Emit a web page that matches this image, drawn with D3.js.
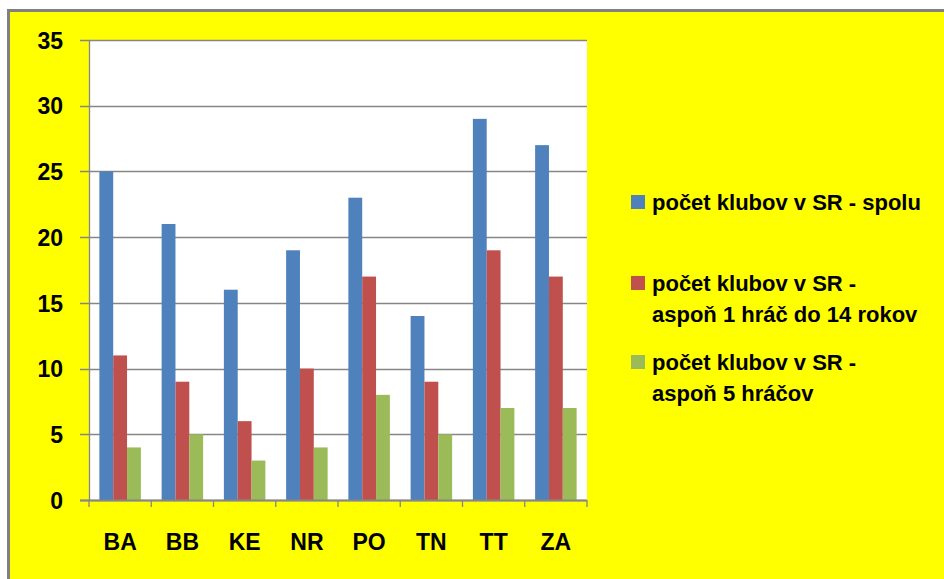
<!DOCTYPE html>
<html>
<head>
<meta charset="utf-8">
<script src="https://cdn.jsdelivr.net/npm/d3@7"></script>
<style>
  html, body { margin: 0; padding: 0; background: #fff; }
  svg { display: block; }
  text { font-family: "Liberation Sans", Arial, sans-serif; font-weight: bold; fill: #000; }
</style>
</head>
<body>
<div id="chart"></div>
<script>
// data
const regions = ["BA", "BB", "KE", "NR", "PO", "TN", "TT", "ZA"];
const spolu = [25, 21, 16, 19, 23, 14, 29, 27];
const hrac14 = [11, 9, 6, 10, 17, 9, 19, 17];
const hracov5 = [4, 5, 3, 4, 8, 5, 7, 7];
const seriesNames = [
    ["počet klubov v SR - spolu"],
    ["počet klubov v SR -", "aspoň 1 hráč do 14 rokov"],
    ["počet klubov v SR -", "aspoň 5 hráčov"]
];
const yTicks = [0, 5, 10, 15, 20, 25, 30, 35];

const series = [
    {values: spolu, clr: "#4F81BD"},
    {values: hrac14, clr: "#C0504D"},
    {values: hracov5, clr: "#9BBB59"}
];

const W = 944, H = 579;
const plot = {left: 89, right: 587, top: 40, bottom: 500};

const svg = d3.select("#chart").append("svg")
    .attr("width", W)
    .attr("height", H);

// pozadie s ramom
svg.append("rect")
    .attr("x", 8.5).attr("y", 10.5)
    .attr("width", W).attr("height", H)
    .attr("fill", "#FFFF00")
    .attr("stroke", "#808080")
    .attr("stroke-width", 3);

svg.append("rect")
    .attr("x", plot.left).attr("y", plot.top)
    .attr("width", plot.right - plot.left)
    .attr("height", plot.bottom - plot.top)
    .attr("fill", "#fff");

const x = d3.scaleBand()
    .domain(regions)
    .range([plot.left, plot.right])
    .paddingInner(0).paddingOuter(0);

const y = d3.scaleLinear()
    .domain([0, 35])
    .range([plot.bottom, plot.top]);

const bw = x.bandwidth() / 4.5;   // gap = 150%

// mriezka
svg.append("g")
    .selectAll("line")
    .data(yTicks)
    .enter().append("line")
    .attr("x1", plot.left - 9)
    .attr("x2", plot.right)
    .attr("y1", d => Math.round(y(d)) + 0.5)
    .attr("y2", d => Math.round(y(d)) + 0.5)
    .attr("stroke", "#868686")
    .attr("stroke-width", 1.3);

// stlpce
series.forEach((s, si) => {
    svg.append("g")
        .selectAll("rect")
        .data(s.values)
        .enter().append("rect")
        .attr("x", (d, i) => x(regions[i]) + bw * 0.75 + si * bw)
        .attr("y", d => y(d))
        .attr("width", bw)
        .attr("height", d => y(0) - y(d))
        .attr("fill", s.clr);
});

// osi
const yAxis = d3.axisLeft(y).tickValues(yTicks).tickSize(0).tickPadding(26);
const gy = svg.append("g")
    .attr("transform", `translate(${plot.left},0)`)
    .call(yAxis);
gy.select(".domain").attr("stroke", "#868686").attr("stroke-width", 1.3);
gy.selectAll("text")
    .style("font-size", "23px")
    .attr("dy", "0.36em");

const xAxis = d3.axisBottom(x).tickSize(0).tickPadding(34);
const gx = svg.append("g")
    .attr("transform", `translate(0,${plot.bottom})`)
    .call(xAxis);
gx.select(".domain").remove();
gx.selectAll("text").style("font-size", "23px");

svg.append("line")
    .attr("x1", plot.left - 9).attr("x2", plot.right)
    .attr("y1", plot.bottom + 0.5).attr("y2", plot.bottom + 0.5)
    .attr("stroke", "#868686").attr("stroke-width", 2);

const bounds = regions.map(r => x(r)).concat([plot.right]);
svg.append("g").selectAll("line")
    .data(bounds)
    .enter().append("line")
    .attr("x1", d => d).attr("x2", d => d)
    .attr("y1", plot.bottom).attr("y2", plot.bottom + 7)
    .attr("stroke", "#868686").attr("stroke-width", 1.3);

// legenda
const legendTop = [210, 291, 370];
const leg = svg.append("g");
seriesNames.forEach((lines, i) => {
    leg.append("rect")
        .attr("x", 631).attr("y", legendTop[i] - 15)
        .attr("width", 14).attr("height", 14)
        .attr("fill", series[i].clr);
    lines.forEach((t, j) => {
        leg.append("text")
            .attr("x", 652)
            .attr("y", legendTop[i] + j * 31)
            .style("font-size", "22px")
            .text(t);
    });
});
</script>
</body>
</html>
